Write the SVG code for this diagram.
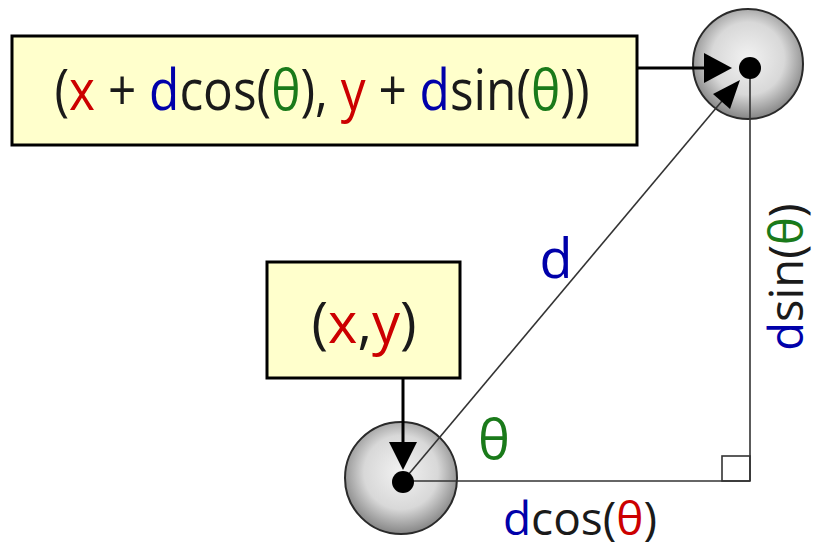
<svg xmlns="http://www.w3.org/2000/svg" width="822" height="548" viewBox="0 0 822 548">
<style>
.box{fill:#ffffcc;stroke:#000;stroke-width:3}
.t{font-family:"Open Sans","Noto Sans",sans-serif;fill:#1a1a1a}
.r{fill:#cc0000}.b{fill:#0000aa}.g{fill:#1a7a1a}
.ball{fill:url(#rg);stroke:#2a2a2a;stroke-width:2}
.thin{stroke:#333;stroke-width:1.6;fill:none}
.thick{stroke:#000;stroke-width:3;fill:none}
</style>
<defs>
<radialGradient id="rg" cx="0.5" cy="0.45" r="0.55">
<stop offset="0" stop-color="#f2f2f2"/>
<stop offset="0.6" stop-color="#d8d8d8"/>
<stop offset="1" stop-color="#858585"/>
</radialGradient>
</defs>
<g id="ball-top"><circle class="ball" cx="748" cy="64" r="55"/></g>
<g id="ball-bottom"><circle class="ball" cx="401" cy="478" r="56"/></g>
<g id="connectors">
<line class="thin" x1="403" y1="481" x2="750" y2="481"/>
<line class="thin" x1="750" y1="68" x2="750" y2="481"/>
<rect x="722" y="456" width="28" height="25" class="thin"/>
<line class="thin" x1="403" y1="481" x2="722" y2="101"/>
<path d="M740,80 L713,94 L730,109 Z" fill="#000"/>
<line class="thick" x1="637" y1="68" x2="705" y2="68"/>
<path d="M732,68 L704,53 L704,83 Z" fill="#000"/>
<line class="thick" x1="403" y1="378" x2="403" y2="445"/>
<path d="M403,470 L389,442 L417,442 Z" fill="#000"/>
</g>
<g id="dot-top"><circle cx="750" cy="68" r="11" fill="#000"/></g>
<g id="dot-bottom"><circle cx="403" cy="482" r="11" fill="#000"/></g>
<g id="box-top">
<rect class="box" x="12" y="36" width="625" height="109"/>
<text class="t" transform="translate(322,110) scale(0.885,1)" font-size="56" text-anchor="middle">(<tspan class="r">x</tspan> + <tspan class="b">d</tspan>cos(<tspan class="g">θ</tspan>), <tspan class="r">y</tspan> + <tspan class="b">d</tspan>sin(<tspan class="g">θ</tspan>))</text>
</g>
<g id="box-xy">
<rect class="box" x="267" y="262" width="193" height="116"/>
<text class="t" x="364" y="343" font-size="56" text-anchor="middle">(<tspan class="r">x</tspan>,<tspan class="r">y</tspan>)</text>
</g>
<g id="labels">
<text class="t b" x="556" y="278" font-size="54" text-anchor="middle">d</text>
<text class="t g" x="494" y="459" font-size="54" text-anchor="middle">θ</text>
<text class="t" x="580" y="535" font-size="46" text-anchor="middle"><tspan class="b">d</tspan>cos(<tspan class="r">θ</tspan>)</text>
<text class="t" transform="translate(803,277) rotate(-90)" font-size="47" text-anchor="middle"><tspan class="b">d</tspan>sin(<tspan class="g">θ</tspan>)</text>
</g>
</svg>
